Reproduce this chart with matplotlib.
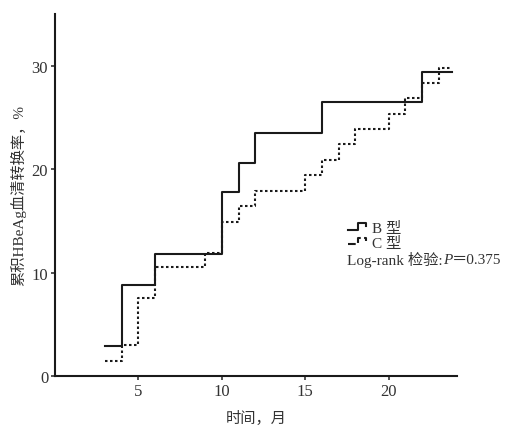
import numpy as np
import matplotlib
matplotlib.use('Agg')
import matplotlib.pyplot as plt
from matplotlib.legend_handler import HandlerBase
from matplotlib.lines import Line2D
from matplotlib.transforms import offset_copy

plt.rcParams['font.family'] = ['Liberation Serif', 'Noto Sans CJK SC']

# months and cumulative seroconversion rate (%)
b_months = [3, 4, 6, 10, 11, 12, 16, 22, 23.8]
b_rate = [2.9, 8.8, 11.8, 17.8, 20.6, 23.5, 26.5, 29.4, 29.4]
c_months = [3, 4, 5, 6, 9, 10, 11, 12, 15, 16, 17, 18, 20, 21, 22, 23, 23.8]
c_rate = [1.5, 3.0, 7.5, 10.5, 11.9, 14.9, 16.4, 17.9, 19.4, 20.9, 22.4,
          23.9, 25.3, 26.9, 28.3, 29.8, 29.8]
x_ticks = [5, 10, 15, 20]
y_ticks = [0, 10, 20, 30]
line_color = '#1a1a1a'
text_color = '#333333'


# little step-shaped legend glyphs like in the paper
class StepHandler(HandlerBase):
    def create_artists(self, legend, orig_handle, xdescent, ydescent,
                       width, height, fontsize, trans):
        xs = np.array([0, 0.55, 0.55, 1.0, 1.0]) * width - xdescent
        ys = np.array([0.2, 0.2, 0.8, 0.8, 0.5]) * height - ydescent
        ln = Line2D(xs, ys, color=orig_handle.get_color(),
                    linestyle=orig_handle.get_linestyle(),
                    linewidth=orig_handle.get_linewidth(), transform=trans)
        return [ln]


fig = plt.figure(figsize=(5.1, 4.27), dpi=100)
ax = fig.add_axes([0.108, 0.117, 0.788, 0.848])

lb, = ax.step(b_months, b_rate, where='post', color=line_color, lw=1.5,
              linestyle='-')
lc, = ax.step(c_months, c_rate, where='post', color=line_color, lw=1.5,
              linestyle=(0, (1.2, 1.2)))

ax.set_xlim(0, 24.1)
ax.set_ylim(0, 35)
ax.set_xticks(x_ticks)
ax.set_yticks(y_ticks)
ax.spines['top'].set_visible(False)
ax.spines['right'].set_visible(False)
for s in ['left', 'bottom']:
    ax.spines[s].set_linewidth(1.5)
    ax.spines[s].set_color(line_color)
ax.tick_params(direction='out', length=3, width=1.2, labelsize=12,
               colors=text_color, pad=2)

ax.set_xlabel('时间，月', fontsize=11, color=text_color, labelpad=8)
ax.set_ylabel('累积HBeAg血清转换率，%', fontsize=11, color=text_color,
              labelpad=4)

leg = ax.legend([lb, lc], ['B 型', 'C 型'], handler_map={Line2D: StepHandler()},
                loc='upper left', bbox_to_anchor=(0.71, 0.45), frameon=False,
                fontsize=11, handlelength=1.2, handletextpad=0.4,
                labelspacing=0.05, borderpad=0)
for t in leg.get_texts():
    t.set_color(text_color)

# log-rank line built from pieces so P can be italic
pieces = [('Log-rank 检验:', 'normal'), ('P', 'italic'), ('＝0.375', 'normal')]
renderer = fig.canvas.get_renderer()
tr = ax.transAxes
for txt, style in pieces:
    t = ax.text(0.727, 0.322, txt, transform=tr, fontsize=11, color=text_color,
                ha='left', va='center', fontstyle=style)
    w = t.get_window_extent(renderer=renderer).width
    tr = offset_copy(tr, fig=fig, x=w * 72 / fig.dpi, y=0, units='points')

fig.savefig('out.png', dpi=100)
